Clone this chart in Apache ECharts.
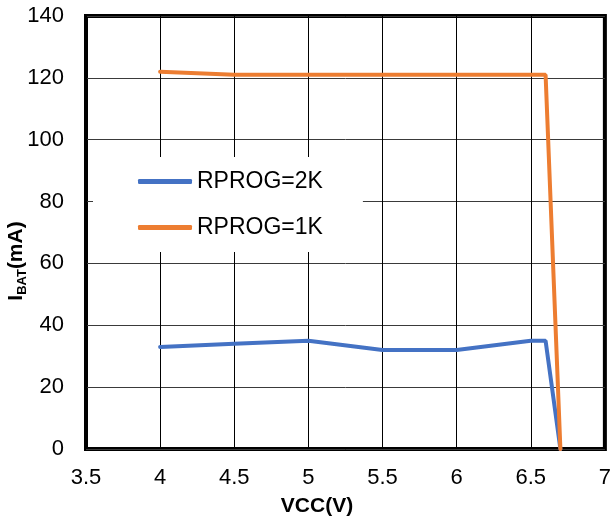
<!DOCTYPE html>
<html><head><meta charset="utf-8">
<script src="https://cdn.jsdelivr.net/npm/echarts@6/dist/echarts.min.js"></script>
<style>html,body{margin:0;padding:0;background:#fff}#c{width:614px;height:520px}</style>
</head><body><div id="c"></div>
<script>
var vcc = [4, 4.5, 5, 5.5, 6, 6.5, 6.6, 6.7];
var rprog2k = [33, 34, 35, 32, 32, 35, 35, 0];
var rprog1k = [122, 121, 121, 121, 121, 121, 121, 0];
var seriesNames = ['RPROG=2K', 'RPROG=1K'];
var xTitle = 'VCC(V)';
var FONT = '"Liberation Sans", Arial, sans-serif';

function pairs(xs, ys) { return xs.map(function (x, i) { return [x, ys[i]]; }); }

var chart = echarts.init(document.getElementById('c'), null, {renderer: 'canvas'});
chart.setOption({
  animation: false,
  backgroundColor: '#fff',
  grid: {left: 86, right: 8, top: 16, bottom: 71, show: true, borderColor: '#000', borderWidth: 4, backgroundColor: 'transparent'},
  xAxis: {
    type: 'value', min: 3.5, max: 7, interval: 0.5,
    axisLine: {show: false}, axisTick: {show: false},
    axisLabel: {color: '#000', fontSize: 22, fontFamily: FONT, margin: 18},
    splitLine: {show: true, lineStyle: {color: '#000', width: 1}}
  },
  yAxis: {
    type: 'value', min: 0, max: 140, interval: 20,
    axisLine: {show: false}, axisTick: {show: false},
    axisLabel: {color: '#000', fontSize: 22, fontFamily: FONT, margin: 22},
    splitLine: {show: true, lineStyle: {color: '#3a3a3a', width: 1}}
  },
  legend: {
    orient: 'vertical', left: 93, top: 157,
    padding: [13, 40, 13, 45], itemGap: 23,
    backgroundColor: '#fff',
    icon: 'roundRect', itemWidth: 54, itemHeight: 5,
    textStyle: {color: '#000', fontSize: 23, fontFamily: FONT},
    data: seriesNames
  },
  series: [
    {name: seriesNames[0], type: 'line', data: pairs(vcc, rprog2k), showSymbol: false, symbol: 'none',
     itemStyle: {color: '#4472C4'}, lineStyle: {color: '#4472C4', width: 4, cap: 'round'}},
    {name: seriesNames[1], type: 'line', data: pairs(vcc, rprog1k), showSymbol: false, symbol: 'none',
     itemStyle: {color: '#ED7D31'}, lineStyle: {color: '#ED7D31', width: 4, cap: 'round'}}
  ],
  graphic: [
    {type: 'text', x: 317, y: 506, style: {text: xTitle, fill: '#000', font: 'bold 21px ' + FONT, align: 'center', verticalAlign: 'middle'}},
    {type: 'text', x: 18, y: 261, rotation: Math.PI / 2,
     style: {text: '{a|I}{b|BAT}{a|(mA)}', fill: '#000', align: 'center', verticalAlign: 'middle',
       rich: {
         a: {fontSize: 21, fontWeight: 'bold', fontFamily: FONT, fill: '#000', lineHeight: 24, verticalAlign: 'top'},
         b: {fontSize: 13, fontWeight: 'bold', fontFamily: FONT, fill: '#000', lineHeight: 13, verticalAlign: 'top', padding: [10, 0, 0, 0]}
       }}}
  ]
});
</script></body></html>
